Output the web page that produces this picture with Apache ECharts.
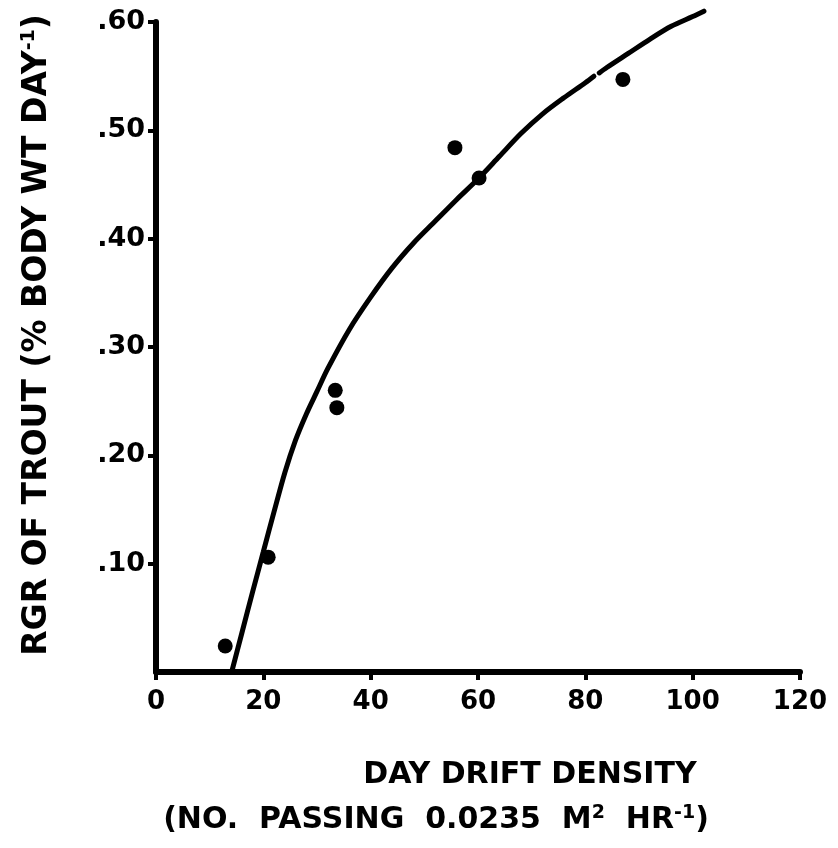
<!DOCTYPE html>
<html>
<head>
<meta charset="utf-8">
<script src="https://cdn.jsdelivr.net/npm/echarts@6/dist/echarts.min.js"></script>
<style>
  html, body { margin: 0; padding: 0; background: #fff; }
  #chart { width: 838px; height: 848px; }
</style>
</head>
<body>
<div id="chart"></div>
<script>
// observed points (day drift density, RGR)
const driftDensity = [12.9, 20.9, 33.4, 33.7, 55.7, 60.2, 87.0];
const rgrTrout = [0.024, 0.106, 0.260, 0.244, 0.484, 0.456, 0.547];

// hand-drawn fitted curve ('-' = small break in the ink near 82)
const curveX = [14.1, 16, 18, 20, 22, 24, 26, 28, 30, 32, 36, 40, 44, 48, 52, 56, 60, 64, 68, 72, 76, 80, 81.6, 82.0, 82.6, 84, 88, 92, 96, 100, 102.1];
const curveY = [0, 0.036, 0.074, 0.111, 0.148, 0.184, 0.214, 0.238, 0.259, 0.280, 0.316, 0.346, 0.373, 0.396, 0.416, 0.436, 0.455, 0.476, 0.497, 0.515, 0.530, 0.544, 0.550, '-', 0.553, 0.558, 0.571, 0.584, 0.596, 0.605, 0.610];

// axis ticks
const xTickValues = [0, 20, 40, 60, 80, 100, 120];
const xTickLabels = ['0', '20', '40', '60', '80', '100', '120'];
const yTickValues = [0.1, 0.2, 0.3, 0.4, 0.5, 0.6];
const yTickLabels = ['.10', '.20', '.30', '.40', '.50', '.60'];

const FONT = 'DejaVu Sans';

const chart = echarts.init(document.getElementById('chart'), null, { renderer: 'canvas' });

const option = {
  backgroundColor: '#fff',
  animation: false,
  grid: {
    left: 156,
    right: 38,
    top: 22,
    bottom: 176,
    outerBoundsMode: 'none'
  },
  xAxis: {
    type: 'value',
    min: 0,
    max: 120,
    interval: 20,
    axisLine: { lineStyle: { color: '#000', width: 6 } },
    axisTick: { show: true, length: 8, lineStyle: { color: '#000', width: 4 } },
    splitLine: { show: false },
    axisLabel: {
      color: '#000',
      fontFamily: FONT,
      fontWeight: 'bold',
      fontSize: 26,
      margin: 17,
      formatter: (v) => {
        const i = xTickValues.indexOf(v);
        return i >= 0 ? xTickLabels[i] : '';
      }
    }
  },
  yAxis: {
    type: 'value',
    min: 0,
    max: 0.6,
    interval: 0.1,
    axisLine: { show: true, lineStyle: { color: '#000', width: 6 } },
    axisTick: { show: true, length: 8, lineStyle: { color: '#000', width: 4 } },
    splitLine: { show: false },
    axisLabel: {
      color: '#000',
      fontFamily: FONT,
      fontWeight: 'bold',
      fontSize: 27,
      margin: 11,
      showMinLabel: false,
      formatter: (v) => {
        const i = yTickValues.findIndex((t) => Math.abs(t - v) < 1e-6);
        return i >= 0 ? yTickLabels[i] : '';
      }
    }
  },
  graphic: [
    {
      type: 'text',
      x: 37,
      y: 335,
      rotation: Math.PI / 2,
      style: {
        text: 'RGR OF TROUT (% BODY WT DAY{sup|-1})',
        fill: '#000',
        font: 'bold 33px "DejaVu Sans"',
        align: 'center',
        verticalAlign: 'middle',
        rich: {
          sup: { fontSize: 19, fontWeight: 'bold', fontFamily: FONT, verticalAlign: 'top', padding: [0, 0, 16, 0] }
        }
      }
    },
    {
      type: 'text',
      x: 530,
      y: 775,
      style: {
        text: 'DAY DRIFT DENSITY',
        fill: '#000',
        font: 'bold 30px "DejaVu Sans"',
        align: 'center',
        verticalAlign: 'middle'
      }
    },
    {
      type: 'text',
      x: 436,
      y: 820,
      style: {
        text: '(NO.  PASSING  0.0235  M{sup|2}  HR{sup|-1})',
        fill: '#000',
        font: 'bold 30px "DejaVu Sans"',
        align: 'center',
        verticalAlign: 'middle',
        rich: {
          sup: { fontSize: 19, fontWeight: 'bold', fontFamily: FONT, verticalAlign: 'top', padding: [0, 0, 14, 0] }
        }
      }
    }
  ],
  series: [
    {
      name: 'curve',
      type: 'line',
      data: curveX.map((x, i) => [x, curveY[i]]),
      showSymbol: false,
      smooth: 0.3,
      connectNulls: false,
      clip: false,
      lineStyle: { color: '#000', width: 5, cap: 'round' },
      z: 2
    },
    {
      name: 'observed',
      type: 'scatter',
      data: driftDensity.map((x, i) => [x, rgrTrout[i]]),
      symbol: 'circle',
      symbolSize: 15,
      itemStyle: { color: '#000', opacity: 1 },
      z: 3
    }
  ]
};

chart.setOption(option);
</script>
</body>
</html>
